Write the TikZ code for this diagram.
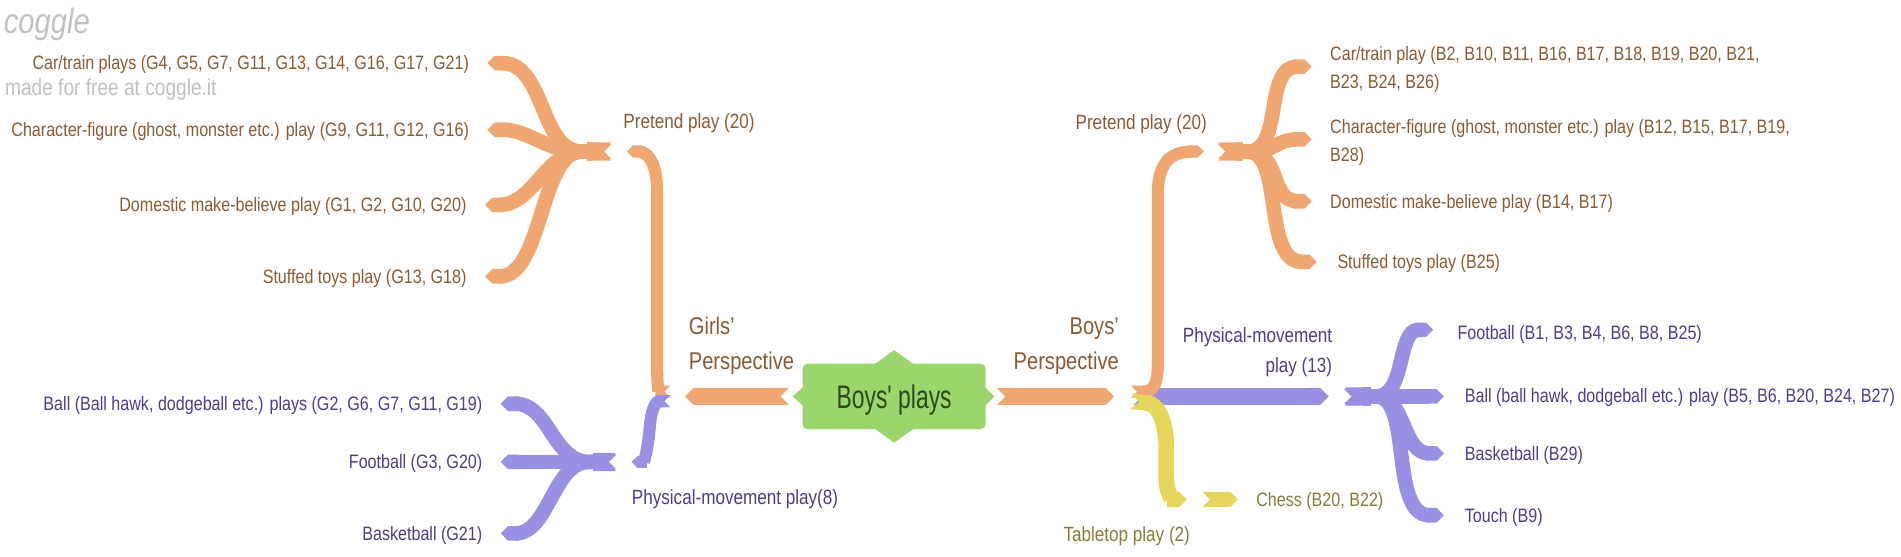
\documentclass[tikz,border=0pt]{standalone}
\usepackage{fontspec}
\setmainfont{Liberation Sans}[FakeStretch=0.83]
\newfontfamily\bigfont{Liberation Sans}[FakeStretch=0.7]
\usetikzlibrary{arrows.meta}
\definecolor{orB}{RGB}{240,166,112}
\definecolor{orT}{RGB}{139,90,48}
\definecolor{puB}{RGB}{152,144,226}
\definecolor{puT}{RGB}{72,62,138}
\definecolor{yeB}{RGB}{230,214,92}
\definecolor{yeT}{RGB}{134,124,58}
\definecolor{grB}{RGB}{155,214,108}
\definecolor{grT}{RGB}{46,72,30}
\definecolor{wmk}{RGB}{192,192,192}
\begin{document}
\begin{tikzpicture}[x=1pt,y=-1pt,
  br/.style={line width=#1, {Triangle Cap[reversed]}-{Triangle Cap}},
  brO/.style={draw=orB, br=#1},
  brP/.style={draw=puB, br=#1},
  brY/.style={draw=yeB, br=#1},
  trunk/.style={line width=15pt, {Triangle Cap[reversed]}-},
  bar/.style={line width=14pt, {Triangle Cap[reversed]}-{Triangle Cap}},
  leaf/.style={font=\fontsize{16}{23}\selectfont, inner sep=0pt},
  lvtwo/.style={font=\fontsize{17}{25}\selectfont, inner sep=0pt},
  lvone/.style={font=\fontsize{20}{29}\selectfont, inner sep=0pt, text=orT},
  rootbox/.style={fill=grB, text=grT, minimum width=151pt, minimum height=54pt,
    rounded corners=4pt, inner sep=0pt, text depth=0pt,
    font=\bigfont\fontsize{27}{30}\selectfont}
]
\useasboundingbox (0,0) rectangle (1568,459);

% watermark
\node[anchor=west, inner sep=0pt, text=wmk, font=\fontsize{29}{30}\selectfont\itshape] (wm1) at (3,20) {coggle};
\node[anchor=base west, inner sep=0pt, text=wmk, font=\fontsize{19}{22}\selectfont] (wm2) at (4,78.5) {made for free at coggle.it};

% ---------- coordinates ----------
\coordinate (LJo) at (553,323);
\coordinate (LJp) at (553,331);
\coordinate (LPe) at (517,125);
\coordinate (LPH) at (504,125);
\coordinate (LPT) at (484,125);
\coordinate (LMe) at (521,381);
\coordinate (LMH) at (508,381);
\coordinate (LMT) at (490,381);
\coordinate (RJo) at (933,323);
\coordinate (RJp) at (935,327);
\coordinate (RJy) at (933,331);
\coordinate (RPe) at (993,125);
\coordinate (RPH) at (1005,125);
\coordinate (RPT) at (1025,125);
\coordinate (RMe) at (1096,327);
\coordinate (RMH) at (1109,327);
\coordinate (RMT) at (1131,327);
\coordinate (RTe) at (979,412);
\coordinate (RTH) at (992,412);

\coordinate (lo1) at (402,52);
\coordinate (lo2) at (402,107);
\coordinate (lo3) at (400,169);
\coordinate (lo4) at (400,228);
\coordinate (lp1) at (413,333);
\coordinate (lp2) at (413,381);
\coordinate (lp3) at (413,440);
\coordinate (ro1) at (1082,55);
\coordinate (ro2) at (1082,115);
\coordinate (ro3) at (1082,166);
\coordinate (ro4) at (1086,216);
\coordinate (rp1) at (1182,272);
\coordinate (rp2) at (1191,327);
\coordinate (rp3) at (1191,374);
\coordinate (rp4) at (1191,425);
\coordinate (ry1) at (1021,412);

% ---------- left leaves ----------
\draw[brO=12pt] (LPH) -- ++(-24,0) .. controls +(-35,0) and +(48,0) .. (lo1);
\draw[brO=12pt] (LPH) -- ++(-24,0) .. controls +(-30,0) and +(35,0) .. (lo2);
\draw[brO=12pt] (LPH) -- ++(-24,0) .. controls +(-30,0) and +(40,0) .. (lo3);
\draw[brO=12pt] (LPH) -- ++(-24,0) .. controls +(-35,0) and +(48,0) .. (lo4);
\draw[trunk, draw=orB] (LPH) -- (LPT);
\draw[brP=12pt] (LMH) -- ++(-22,0) .. controls +(-30,0) and +(40,0) .. (lp1);
\draw[brP=12pt] (LMH) -- (lp2);
\draw[brP=12pt] (LMH) -- ++(-22,0) .. controls +(-30,0) and +(40,0) .. (lp3);
\draw[trunk, draw=puB] (LMH) -- (LMT);

% ---------- right leaves ----------
\draw[brO=12pt] (RPH) -- ++(24,0) .. controls +(30,0) and +(-40,0) .. (ro1);
\draw[brO=12pt] (RPH) -- ++(24,0) .. controls +(25,0) and +(-30,0) .. (ro2);
\draw[brO=12pt] (RPH) -- ++(24,0) .. controls +(28,0) and +(-35,0) .. (ro3);
\draw[brO=12pt] (RPH) -- ++(24,0) .. controls +(30,0) and +(-45,0) .. (ro4);
\draw[trunk, draw=orB] (RPH) -- (RPT);
\draw[brP=12pt] (RMH) -- ++(26,0) .. controls +(25,0) and +(-30,0) .. (rp1);
\draw[brP=12pt] (RMH) -- (rp2);
\draw[brP=12pt] (RMH) -- ++(26,0) .. controls +(25,0) and +(-35,0) .. (rp3);
\draw[brP=12pt] (RMH) -- ++(26,0) .. controls +(30,0) and +(-45,0) .. (rp4);
\draw[trunk, draw=puB] (RMH) -- (RMT);
\draw[brY=12pt] (RTH) -- (ry1);

% ---------- second level ----------
\draw[brO=10pt] (LJo) .. controls (543,323) and (542,315) .. (542,300) -- (542,158) .. controls (542,134) and (534,125) .. (LPe);
\draw[brP=10pt] (LJp) .. controls (541,331) and (537,338) .. (536,352) .. controls (534,374) and (531,381) .. (LMe);
\draw[brP=14pt] (RJp) -- (RMe);
\draw[brO=10pt] (RJo) .. controls (952,323) and (955,316) .. (955,300) -- (955,160) .. controls (955,134) and (966,125) .. (RPe);
\draw[brY=13pt] (RJy) .. controls (954,333) and (962,345) .. (962,370) -- (962,394) .. controls (962,408) and (968,412) .. (RTe);

% ---------- root ----------
\node[rootbox] (root) at (737.5,327) {Boys' plays};
\fill[grB] ([xshift=-18pt,yshift=-2pt]root.north) -- ([yshift=11pt]root.north) -- ([xshift=18pt,yshift=-2pt]root.north) -- cycle;
\fill[grB] ([xshift=-18pt,yshift=2pt]root.south) -- ([yshift=-11pt]root.south) -- ([xshift=18pt,yshift=2pt]root.south) -- cycle;
\fill[grB] ([xshift=2pt,yshift=9pt]root.west) -- ([xshift=-8pt]root.west) -- ([xshift=2pt,yshift=-9pt]root.west) -- cycle;
\fill[grB] ([xshift=-2pt,yshift=9pt]root.east) -- ([xshift=7pt]root.east) -- ([xshift=-2pt,yshift=-9pt]root.east) -- cycle;
\draw[bar, draw=orB] ([xshift=-11pt]root.west) -- (565,327);
\draw[bar, draw=orB] ([xshift=9pt]root.east) -- (919,327);

% ---------- labels ----------
\node[lvone, anchor=north west, align=left] (girls) at (568,261) {Girls'\\Perspective};
\node[lvone, anchor=north east, align=right] (boys) at (923,262) {Boys'\\Perspective};

\node[lvtwo, text=orT, anchor=base west] (lpre) at (514,106) {Pretend play (20)};
\node[lvtwo, text=puT, anchor=base west] (lmov) at (521,415.8) {Physical-movement play(8)};
\node[lvtwo, text=orT, anchor=base west] (rpre) at (887,107) {Pretend play (20)};
\node[lvtwo, text=puT, anchor=north east, align=right] (rmov) at (1099,270) {Physical-movement\\play (13)};
\node[lvtwo, text=yeT, anchor=base west] (rtab) at (877,447) {Tabletop play (2)};

\node[leaf, text=orT, anchor=base east] (g1) at (387,57.7) {Car/train plays (G4, G5, G7, G11, G13, G14, G16, G17, G21)};
\node[leaf, text=orT, anchor=base east] (g2) at (387,112.7) {Character-figure (ghost, monster etc.) play (G9, G11, G12, G16)};
\node[leaf, text=orT, anchor=base east] (g3) at (385,174.7) {Domestic make-believe play (G1, G2, G10, G20)};
\node[leaf, text=orT, anchor=base east] (g4) at (385,233.7) {Stuffed toys play (G13, G18)};
\node[leaf, text=puT, anchor=base east] (g5) at (398,338.7) {Ball (Ball hawk, dodgeball etc.) plays (G2, G6, G7, G11, G19)};
\node[leaf, text=puT, anchor=base east] (g6) at (398,386.7) {Football (G3, G20)};
\node[leaf, text=puT, anchor=base east] (g7) at (398,445.7) {Basketball (G21)};

\node[leaf, text=orT, anchor=north west, align=left] (b1) at (1097,38) {Car/train play (B2, B10, B11, B16, B17, B18, B19, B20, B21,\\B23, B24, B26)};
\node[leaf, text=orT, anchor=north west, align=left] (b2) at (1097,98) {Character-figure (ghost, monster etc.) play (B12, B15, B17, B19,\\B28)};
\node[leaf, text=orT, anchor=base west] (b3) at (1097,171.7) {Domestic make-believe play (B14, B17)};
\node[leaf, text=orT, anchor=base west] (b4) at (1103,221.7) {Stuffed toys play (B25)};
\node[leaf, text=puT, anchor=base west] (b5) at (1202,279.7) {Football (B1, B3, B4, B6, B8, B25)};
\node[leaf, text=puT, anchor=base west] (b6) at (1208,331.7) {Ball (ball hawk, dodgeball etc.) play (B5, B6, B20, B24, B27)};
\node[leaf, text=puT, anchor=base west] (b7) at (1208,379.7) {Basketball (B29)};
\node[leaf, text=puT, anchor=base west] (b8) at (1208,430.7) {Touch (B9)};
\node[leaf, text=yeT, anchor=base west] (b9) at (1036,417.7) {Chess (B20, B22)};
\end{tikzpicture}
\end{document}
